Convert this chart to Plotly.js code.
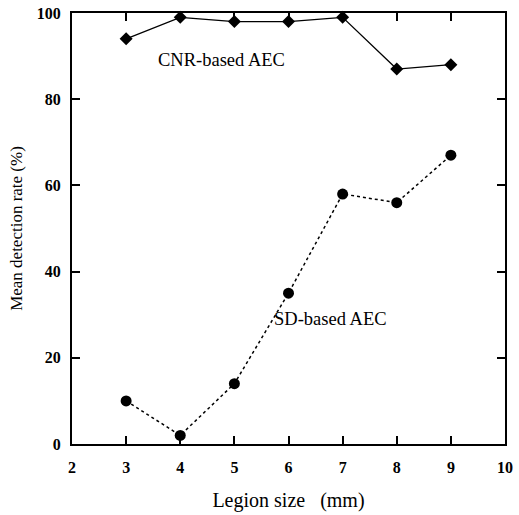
<!DOCTYPE html>
<html>
<head>
<meta charset="utf-8">
<script src="https://cdn.plot.ly/plotly-3.0.1.min.js"></script>
<style>html,body{margin:0;padding:0;background:#fff;}#chart{width:519px;height:515px;}</style>
</head>
<body>
<div id="chart"></div>
<script>
const lesionSizes = [3, 4, 5, 6, 7, 8, 9];
const cnrValues = [94, 99, 98, 98, 99, 87, 88];
const sdValues = [10, 2, 14, 35, 58, 56, 67];
const xTicks = [2, 3, 4, 5, 6, 7, 8, 9, 10];
const yTicks = [0, 20, 40, 60, 80, 100];

const serif = 'Liberation Serif, Times New Roman, serif';

const traces = [
  {
    x: lesionSizes, y: cnrValues, type: 'scatter', mode: 'lines+markers',
    line: {color: '#000', width: 1.3},
    marker: {symbol: 'diamond', size: 10, color: '#000'},
    cliponaxis: false, showlegend: false
  },
  {
    x: lesionSizes, y: sdValues, type: 'scatter', mode: 'lines+markers',
    line: {color: '#000', width: 1.5, dash: '3px,3px'},
    marker: {symbol: 'circle', size: 11, color: '#000'},
    cliponaxis: false, showlegend: false
  }
];

const axisCommon = {
  showline: true, linecolor: '#000', linewidth: 2, mirror: 'ticks',
  ticks: 'inside', ticklen: 8, tickwidth: 2, tickcolor: '#000',
  showgrid: false, zeroline: false,
  tickfont: {family: serif, size: 16, color: '#000', weight: 'bold'}
};

const layout = {
  width: 519, height: 515,
  margin: {l: 72, r: 14, t: 13, b: 71},
  paper_bgcolor: '#fff', plot_bgcolor: '#fff',
  xaxis: Object.assign({}, axisCommon, {
    range: [2, 10], tickvals: xTicks, ticktext: xTicks.map(String),
    ticklabelstandoff: 8,
    title: {text: 'Legion size   (mm)', font: {family: serif, size: 20, color: '#000'}, standoff: 18}
  }),
  yaxis: Object.assign({}, axisCommon, {
    range: [0, 100], tickvals: yTicks, ticktext: yTicks.map(String),
    ticklabelstandoff: 6,
    title: {text: 'Mean detection rate (%)', font: {family: serif, size: 17, color: '#000'}, standoff: 10}
  }),
  annotations: [
    {x: 4.77, y: 89, xref: 'x', yref: 'y', text: 'CNR-based AEC', showarrow: false,
     font: {family: serif, size: 18.5, color: '#000'}},
    {x: 6.77, y: 29, xref: 'x', yref: 'y', text: 'SD-based AEC', showarrow: false,
     font: {family: serif, size: 18.5, color: '#000'}}
  ]
};

Plotly.newPlot('chart', traces, layout, {displayModeBar: false, staticPlot: true});
</script>
</body>
</html>
